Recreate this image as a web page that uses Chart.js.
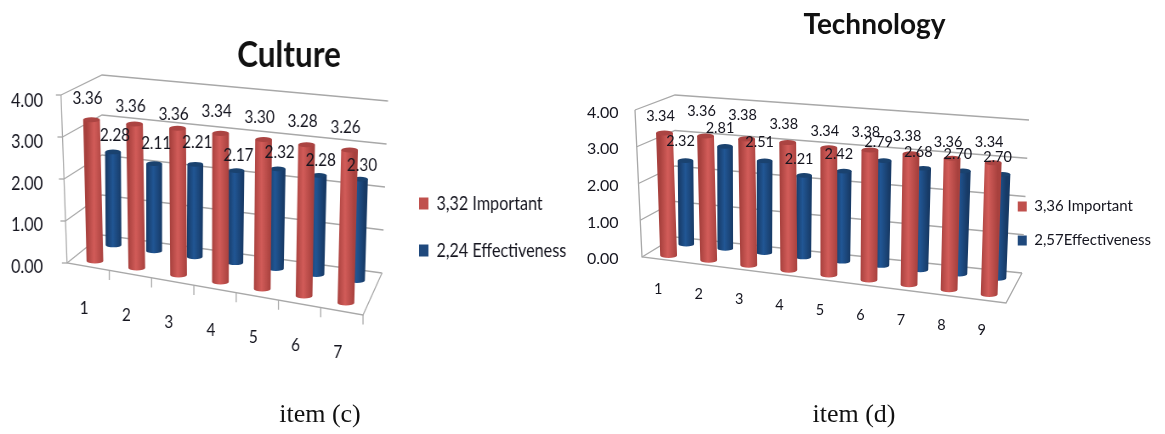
<!DOCTYPE html>
<html>
<head>
<meta charset="utf-8">
<title>Culture / Technology</title>
<script src="https://cdn.jsdelivr.net/npm/chart.js@4/dist/chart.umd.js"></script>
<style>
    html, body { margin: 0; padding: 0; background: #fff; width: 1165px; height: 434px; overflow: hidden; }
    canvas { position: absolute; top: 0; transform-origin: 0 0; }
    /* The Culture panel of the original uses a condensed face: squeeze it sideways */
    #chartCulture { left: 0; transform: scaleX(0.85); }
    #chartTechnology { left: 583px; }
    .caption { position: absolute; top: 399px; font: 26px "Liberation Serif", serif; color: #111; transform: translateX(-50%); }
</style>
</head>
<body>
<canvas id="chartCulture" width="670" height="434"></canvas>
<canvas id="chartTechnology" width="582" height="434"></canvas>
<div class="caption" style="left:320px">item (c)</div>
<div class="caption" style="left:854px">item (d)</div>

<script>
const cultureItems = ['1', '2', '3', '4', '5', '6', '7'];
const cultureImportant = [3.36, 3.36, 3.36, 3.34, 3.30, 3.28, 3.26];
const cultureEffectiveness = [2.28, 2.11, 2.21, 2.17, 2.32, 2.28, 2.30];

const technologyItems = ['1', '2', '3', '4', '5', '6', '7', '8', '9'];
const technologyImportant = [3.34, 3.36, 3.38, 3.38, 3.34, 3.38, 3.38, 3.36, 3.34];
const technologyEffectiveness = [2.32, 2.81, 2.51, 2.21, 2.42, 2.79, 2.68, 2.70, 2.70];

const RED = { edge: '#a8413e', mid: '#d25c59', cap: '#ab4442', key: '#c0504d' };
const BLUE = { edge: '#173a66', mid: '#215694', cap: '#1a426f', key: '#1f497d' };
const TEXT = '#15151f';
const GRID = '#a8a8a8';
// depth of each row of bars inside the box, 0 = front, 1 = back
const DEPTHS = [0.2, 0.75];

function lerp(a, b, t) { return a + (b - a) * t; }
function mix(p, q, t) { return { x: lerp(p.x, q.x, t), y: lerp(p.y, q.y, t) }; }

// Maps scale pixels + depth onto the tilted box of the original 3D chart
function project(chart, box, x, y, d) {
    const area = chart.chartArea;
    const u = (x - area.left) / area.width;
    const v = (area.bottom - y) / area.height;
    const floor = mix(mix(box.frontBL, box.frontBR, u), mix(box.backBL, box.backBR, u), d);
    const roof = mix(mix(box.frontTL, box.frontTR, u), mix(box.backTL, box.backTR, u), d);
    return mix(floor, roof, v);
}

function polyline(ctx, pts) {
    ctx.beginPath();
    pts.forEach((p, i) => (i ? ctx.lineTo(p.x, p.y) : ctx.moveTo(p.x, p.y)));
    ctx.stroke();
}

function boxPlugin(box, colors) {
    return {
        id: 'box3d',
        afterLayout(chart) {
            // Nudge the legend to where it sits in the original (right edge stays, it clips the text)
            chart.legend.left += box.legendShift[0];
            chart.legend.top += box.legendShift[1];
            chart.legend.bottom += box.legendShift[1];
        },
        // Walls and floor, gridlines come from the y scale ticks
        beforeDatasetsDraw(chart) {
            const ctx = chart.ctx;
            const yScale = chart.scales.y;
            const xScale = chart.scales.x;
            const a = chart.chartArea;
            ctx.save();
            ctx.strokeStyle = GRID;
            ctx.lineWidth = 1.3;
            yScale.ticks.forEach(t => {
                const py = yScale.getPixelForValue(t.value);
                polyline(ctx, [
                    project(chart, box, a.left, py, 0),
                    project(chart, box, a.left, py, 1),
                    project(chart, box, a.right, py, 1)
                ]);
                const f = project(chart, box, a.left, py, 0);
                polyline(ctx, [{ x: f.x - box.tick, y: f.y }, f]);
            });
            polyline(ctx, [box.frontTL, box.frontBL, box.frontBR, box.backBR]);
            xScale.ticks.forEach((t, i) => {
                const f = project(chart, box, xScale.getPixelForValue(i) + a.width / xScale.ticks.length / 2, a.bottom, 0);
                polyline(ctx, [f, { x: f.x, y: f.y + box.tick * 1.6 }]);
            });
            ctx.restore();
        },
        // Replaces the flat rectangle with a cylinder on the same bar element
        beforeDatasetDraw(chart, args) {
            const ctx = chart.ctx;
            const d = DEPTHS[args.index];
            const c = colors[args.index];
            chart.getDatasetMeta(args.index).data.forEach(bar => {
                const bottom = project(chart, box, bar.x, bar.base, d);
                const top = project(chart, box, bar.x, bar.y, d);
                const l = project(chart, box, bar.x - bar.width / 2, bar.base, d);
                const r = project(chart, box, bar.x + bar.width / 2, bar.base, d);
                const hw = (r.x - l.x) / 2;
                const ry = hw * box.squeeze * 0.3;
                const g = ctx.createLinearGradient(bottom.x - hw, 0, bottom.x + hw, 0);
                g.addColorStop(0, c.edge);
                g.addColorStop(0.45, c.mid);
                g.addColorStop(1, c.edge);
                ctx.save();
                ctx.fillStyle = g;
                ctx.beginPath();
                ctx.moveTo(top.x - hw, top.y);
                ctx.lineTo(bottom.x - hw, bottom.y);
                ctx.ellipse(bottom.x, bottom.y, hw, ry, 0, Math.PI, 0, true);
                ctx.lineTo(top.x + hw, top.y);
                ctx.closePath();
                ctx.fill();
                ctx.fillStyle = c.cap;
                ctx.beginPath();
                ctx.ellipse(top.x, top.y, hw, ry, 0, 0, Math.PI * 2);
                ctx.fill();
                ctx.restore();
            });
            return false;
        },
        // Value labels and the slanted category labels
        afterDatasetsDraw(chart) {
            const ctx = chart.ctx;
            const xScale = chart.scales.x;
            ctx.save();
            ctx.font = box.font;
            ctx.fillStyle = TEXT;
            ctx.textAlign = 'center';
            ctx.textBaseline = 'middle';
            xScale.ticks.forEach((t, i) => {
                const p = project(chart, box, xScale.getPixelForValue(i), chart.chartArea.bottom, 0);
                ctx.fillText(xScale.getLabelForValue(i), p.x - 4 / box.squeeze, p.y + box.labelDrop);
            });
            chart.data.datasets.forEach((ds, k) => {
                chart.getDatasetMeta(k).data.forEach((bar, i) => {
                    const p = project(chart, box, bar.x, bar.y, DEPTHS[k]);
                    const lift = box.valueOffset[k][1] + box.valueNudge[k][i];
                    ctx.fillText(ds.data[i].toFixed(2), p.x + box.valueOffset[k][0] / box.squeeze, p.y + lift);
                });
            });
            ctx.restore();
        }
    };
}

// Box corners are written in page pixels, the canvas may be offset and squeezed
function toCanvas(box, left, squeeze) {
    const out = Object.assign({}, box, { squeeze: squeeze });
    ['frontBL', 'frontBR', 'frontTL', 'frontTR', 'backBL', 'backBR', 'backTL', 'backTR'].forEach(k => {
        out[k] = { x: (box[k].x - left) / squeeze, y: box[k].y };
    });
    return out;
}

function crearGrafico(id, cfg) {
    return new Chart(document.getElementById(id), {
        type: 'bar',
        data: {
            labels: cfg.items,
            datasets: [
                { label: cfg.names[0], data: cfg.important, backgroundColor: RED.key, grouped: false, barPercentage: cfg.bars[0], categoryPercentage: 1 },
                { label: cfg.names[1], data: cfg.effectiveness, backgroundColor: BLUE.key, grouped: false, barPercentage: cfg.bars[1], categoryPercentage: 1 }
            ]
        },
        options: {
            responsive: false,
            animation: false,
            layout: { padding: { left: cfg.padLeft, bottom: cfg.padBottom } },
            plugins: {
                tooltip: { enabled: false },
                title: {
                    display: true,
                    text: cfg.title,
                    color: '#111',
                    font: { family: 'Lato, sans-serif', size: cfg.titleSize, weight: 'bold' },
                    padding: cfg.titlePad
                },
                legend: {
                    position: 'right',
                    align: 'end',
                    labels: { boxWidth: cfg.keyWidth, boxHeight: cfg.keyHeight, padding: cfg.keyGap, color: TEXT, font: { family: 'Lato, sans-serif', size: cfg.legendSize } }
                }
            },
            scales: {
                x: { grid: { display: false }, border: { display: false }, ticks: { display: false } },
                y: {
                    min: 0,
                    max: 4,
                    grid: { display: false, drawTicks: false },
                    border: { display: false },
                    ticks: { stepSize: 1, padding: 3, color: TEXT, font: { family: 'Lato, sans-serif', size: cfg.size }, callback: v => v.toFixed(2) }
                }
            }
        },
        plugins: [boxPlugin(cfg.box, [RED, BLUE])]
    });
}

crearGrafico('chartCulture', {
    items: cultureItems,
    important: cultureImportant,
    effectiveness: cultureEffectiveness,
    names: ['3,32 Important', '2,24 Effectiveness'],
    title: 'Culture',
    size: 19, titleSize: 37, legendSize: 19, keyWidth: 11, keyHeight: 12, keyGap: 28,
    bars: [0.4, 0.39],
    padLeft: 10, padBottom: 159,
    titlePad: { top: 33, bottom: 23 },
    box: toCanvas({
        frontBL: { x: 67, y: 263 }, frontBR: { x: 363, y: 315 },
        frontTL: { x: 61, y: 95 }, frontTR: { x: 368, y: 121 },
        backBL: { x: 102, y: 235 }, backBR: { x: 382, y: 273 },
        backTL: { x: 102, y: 75 }, backTR: { x: 388, y: 101 },
        tick: 6, labelDrop: 41,
        font: '18px Lato, sans-serif',
        valueOffset: [[-4, -20], [2, -18]],
        valueNudge: [[-2, 2, 6, -2, -2, -3, -3], [1, -2, -4, 3, 1, 3, 4]],
        legendShift: [-40, 13]
    }, 0, 0.85)
});

crearGrafico('chartTechnology', {
    items: technologyItems,
    important: technologyImportant,
    effectiveness: technologyEffectiveness,
    names: ['3,36 Important', '2,57Effectiveness'],
    title: 'Technology',
    size: 16, titleSize: 28, legendSize: 15, keyWidth: 9, keyHeight: 10, keyGap: 19,
    bars: [0.42, 0.4],
    padLeft: 1, padBottom: 167,
    titlePad: { top: 8, bottom: 71 },
    box: toCanvas({
        frontBL: { x: 642, y: 257 }, frontBR: { x: 1006, y: 303 },
        frontTL: { x: 635, y: 110 }, frontTR: { x: 1011, y: 143 },
        backBL: { x: 675, y: 237 }, backBR: { x: 1022, y: 273 },
        backTL: { x: 675, y: 95 }, backTR: { x: 1029, y: 120 },
        tick: 0, labelDrop: 30,
        font: '14.5px Lato, sans-serif',
        valueOffset: [[-4, -18], [-5, -17]],
        valueNudge: [[1, -7, -6, 0, 1, 0, 1, 2, -2], [-2, -1, -1, 1, 0, -1, 1, 0, 0]],
        legendShift: [-21, 0]
    }, 583, 1)
});
</script>
</body>
</html>
